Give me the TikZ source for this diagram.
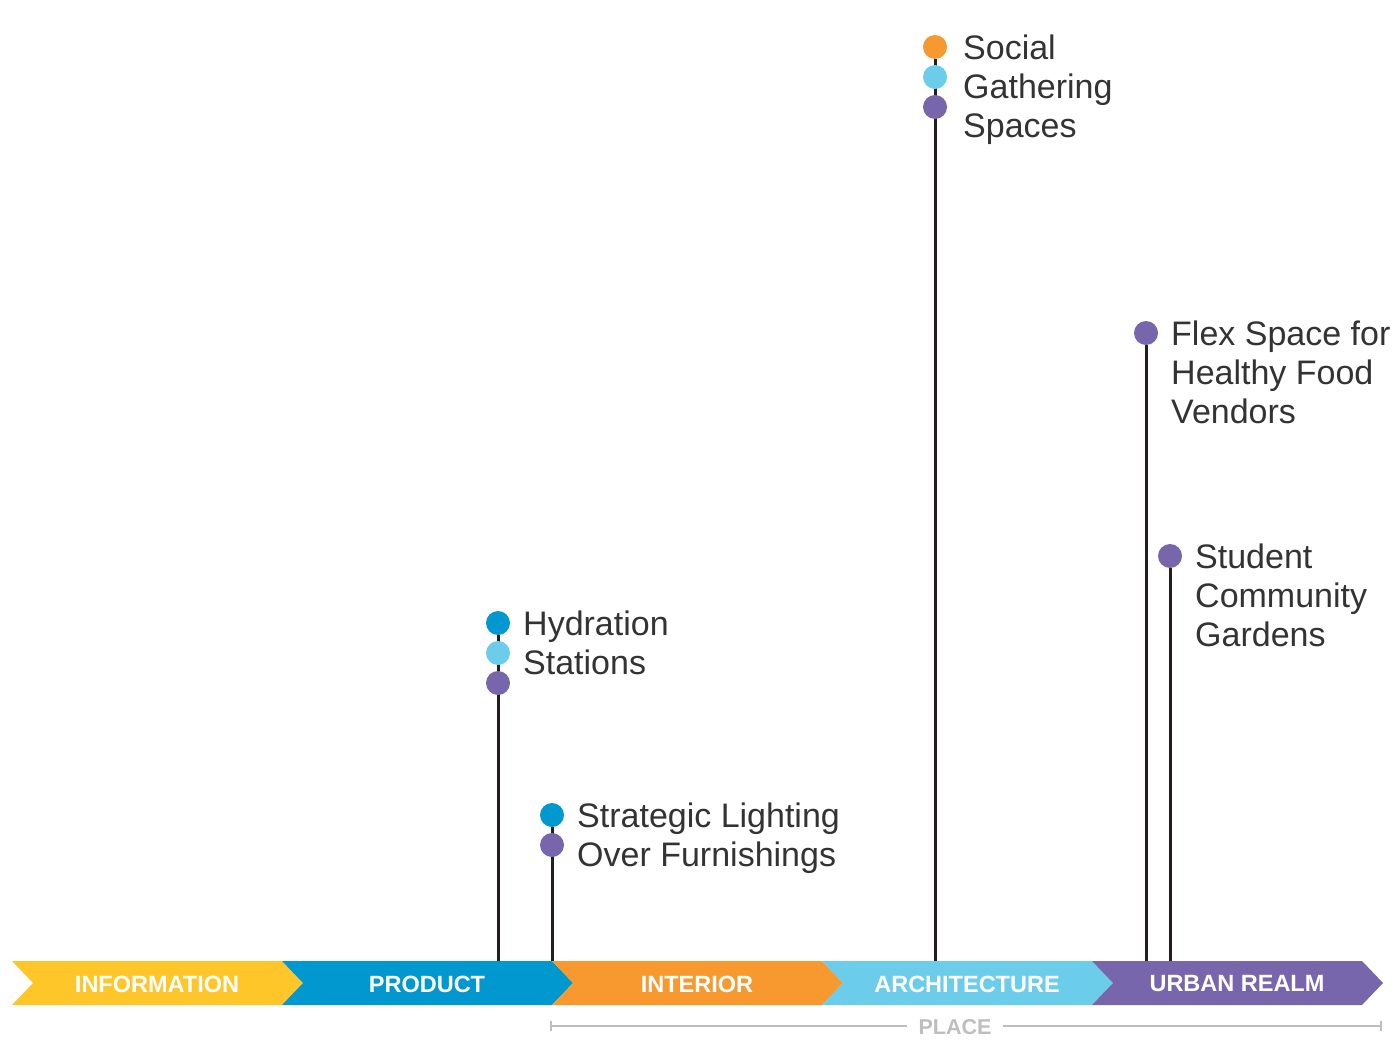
\documentclass[tikz,border=0pt]{standalone}
\usepackage{fontspec}
\setmainfont{Liberation Sans}
\usetikzlibrary{backgrounds}

\definecolor{infoyellow}{HTML}{FFC629}
\definecolor{prodblue}{HTML}{0098CE}
\definecolor{intorange}{HTML}{F7992E}
\definecolor{archblue}{HTML}{6CCDEB}
\definecolor{urbpurple}{HTML}{7766AC}
\definecolor{textgray}{HTML}{333333}
\definecolor{stemblack}{HTML}{231F20}
\definecolor{placegray}{HTML}{BCBEC0}

\begin{document}
\begin{tikzpicture}[x=1pt, y=-1pt,
  dot/.style={circle, fill=#1, minimum size=24pt, inner sep=0pt},
  item/.style={anchor=north west, inner sep=0pt, align=left,
               text=textgray, font=\fontsize{34}{39}\selectfont},
  stem/.style={line width=3pt, draw=stemblack},
  band/.style={font=\fontsize{23.5}{23.5}\selectfont\bfseries, text=white},
  bracket/.style={line width=1.8pt, draw=placegray}]
\useasboundingbox (0,0) rectangle (1393,1041);

% chevron band
\foreach \x/\col/\txt/\nm in {12/infoyellow/INFORMATION/info,
    282/prodblue/PRODUCT/prod, 552/intorange/INTERIOR/inter,
    822/archblue/ARCHITECTURE/arch, 1092/urbpurple/URBAN REALM/urban}{
  \fill[\col] (\x,961) -- ++(270,0) -- ++(21,22) -- ++(-21,22)
    -- ++(-270,0) -- ++(21,-22) -- cycle;
  \node[band] (\nm) at (\x+145,984) {\txt};
}

% dots
\node[dot=prodblue] (hyd1) at (498,623) {};
\node[dot=archblue] (hyd2) at (498,653) {};
\node[dot=urbpurple] (hyd3) at (498,683) {};
\node[dot=prodblue] (light1) at (552,815) {};
\node[dot=urbpurple] (light2) at (552,845) {};
\node[dot=intorange] (soc1) at (935,47) {};
\node[dot=archblue] (soc2) at (935,77) {};
\node[dot=urbpurple] (soc3) at (935,107) {};
\node[dot=urbpurple] (flex1) at (1146,333) {};
\node[dot=urbpurple] (garden1) at (1170,556) {};

\coordinate (hydbase) at (498,961);
\coordinate (lightbase) at (552,961);
\coordinate (socbase) at (935,961);
\coordinate (flexbase) at (1146,961);
\coordinate (gardenbase) at (1170,961);

\begin{scope}[on background layer]
\draw[stem] (hyd1) -- (hydbase);
\draw[stem] (light1) -- (lightbase);
\draw[stem] (soc1) -- (socbase);
\draw[stem] (flex1) -- (flexbase);
\draw[stem] (garden1) -- (gardenbase);
\end{scope}

% labels
\node[item] (hydtxt) at (523,611) {Hydration\\Stations};
\node[item] (lighttxt) at (577,803) {Strategic Lighting\\Over Furnishings};
\node[item] (soctxt) at (963,35) {Social\\Gathering\\Spaces};
\node[item] (flextxt) at (1171,321) {Flex Space for\\Healthy Food\\Vendors};
\node[item] (gardentxt) at (1195,544) {Student\\Community\\Gardens};

% place bracket
\node[font=\fontsize{21.5}{21.5}\selectfont\bfseries, text=placegray,
      inner sep=0pt, inner xsep=11pt] (place) at (955,1027) {PLACE};
\coordinate (placeL) at (551,1026);
\coordinate (placeR) at (1381,1026);
\draw[bracket] (placeL) -- (place.west |- placeL);
\draw[bracket] (place.east |- placeR) -- (placeR);
\draw[bracket] ([yshift=5pt]placeL) -- ([yshift=-5pt]placeL);
\draw[bracket] ([yshift=5pt]placeR) -- ([yshift=-5pt]placeR);
\end{tikzpicture}
\end{document}
